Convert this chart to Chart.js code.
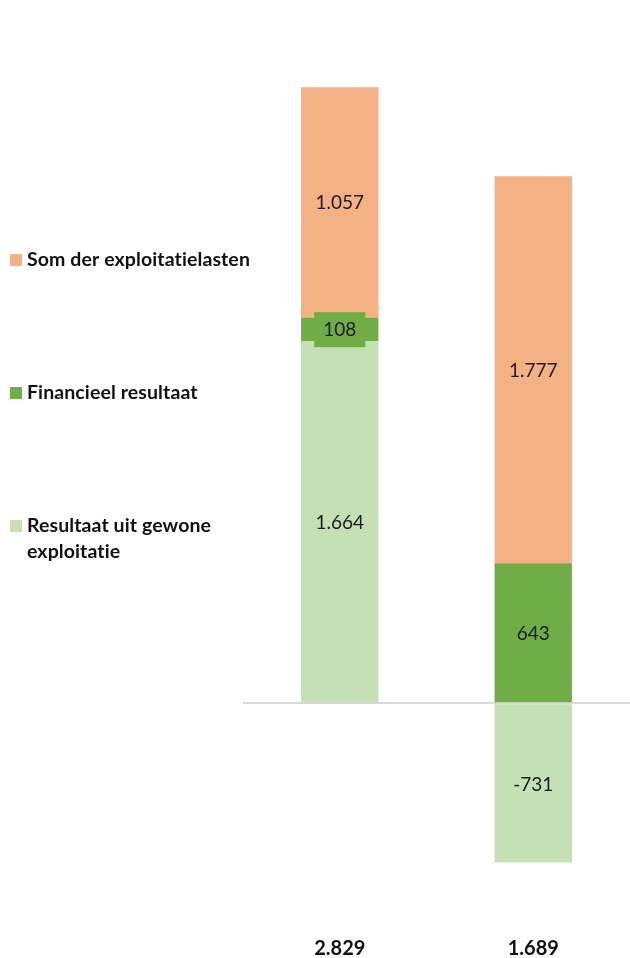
<!DOCTYPE html>
<html>
<head>
<meta charset="utf-8">
<script src="https://cdn.jsdelivr.net/npm/chart.js@4/dist/chart.umd.min.js"></script>
<style>
  html,body{margin:0;padding:0;background:#fff;}
  #wrap{width:630px;height:958px;position:relative;}
</style>
</head>
<body>
<div id="wrap"><canvas id="c"></canvas></div>
<script>
const categories = ['2.829', '1.689'];
const exploitatie = [1664, -731];
const financieel = [108, 643];
const lasten = [1057, 1777];
const seriesNames = ['Resultaat uit gewone exploitatie', 'Financieel resultaat', 'Som der exploitatielasten'];
const colors = ['#C5E0B4', '#70AD47', '#F4B183'];

const FONT = "Lato, sans-serif";
const fmt = v => (v < 0 ? '-' : '') + Math.abs(v).toLocaleString('de-DE');

// value labels in the middle of every segment
const segLabels = {
  id: 'segLabels',
  afterDatasetsDraw(chart) {
    const ctx = chart.ctx;
    ctx.save();
    ctx.font = '19px ' + FONT;
    ctx.textAlign = 'center';
    ctx.textBaseline = 'middle';
    chart.data.datasets.forEach((ds, di) => {
      chart.getDatasetMeta(di).data.forEach((bar, i) => {
        const v = ds.data[i];
        const y = (bar.y + bar.base) / 2;
        const txt = fmt(v);
        if (Math.abs(bar.y - bar.base) < 30) {
          const w = ctx.measureText(txt).width + 18;
          ctx.fillStyle = ds.backgroundColor;
          ctx.fillRect(bar.x - w / 2, y - 17, w, 35);
        }
        ctx.fillStyle = '#1a1a1a';
        ctx.fillText(txt, bar.x, y + 1);
      });
    });
    ctx.restore();
  }
};

// legend on the left, top series first
const sideLegend = {
  id: 'sideLegend',
  afterDraw(chart) {
    const ctx = chart.ctx;
    ctx.save();
    ctx.font = 'bold 19.5px ' + FONT;
    ctx.letterSpacing = '0.1px';
    ctx.textBaseline = 'middle';
    const ys = [526, 393, 260];
    chart.data.datasets.forEach((ds, di) => {
      const y = ys[di];
      ctx.fillStyle = ds.backgroundColor;
      ctx.fillRect(10, y - 6, 12, 12);
      // wrap text to fit in the left column
      const words = ds.label.split(' ');
      const lines = [];
      let line = '';
      words.forEach(w => {
        const t = line ? line + ' ' + w : w;
        if (ctx.measureText(t).width > 240 && line) { lines.push(line); line = w; }
        else line = t;
      });
      lines.push(line);
      ctx.fillStyle = '#111';
      lines.forEach((l, k) => ctx.fillText(l, 27, y + k * 26));
    });
    ctx.restore();
  }
};

new Chart(document.getElementById('c'), {
  type: 'bar',
  data: {
    labels: categories,
    datasets: [
      { label: seriesNames[0], data: exploitatie, backgroundColor: colors[0] },
      { label: seriesNames[1], data: financieel, backgroundColor: colors[1] },
      { label: seriesNames[2], data: lasten, backgroundColor: colors[2] }
    ].map(d => ({ ...d, borderWidth: 0, categoryPercentage: 1, barPercentage: 0.4 }))
  },
  options: {
    responsive: true, maintainAspectRatio: false, animation: false,
    layout: { padding: { left: 243, top: 50, right: 0, bottom: -19 } },
    plugins: { legend: { display: false }, tooltip: { enabled: false } },
    scales: {
      x: {
        stacked: true,
        grid: { display: false }, border: { display: false },
        ticks: { color: '#111', padding: 16, font: { family: FONT, size: 20, weight: 'bold' } }
      },
      y: {
        stacked: true, min: -963, max: 3000,
        border: { display: false },
        ticks: { display: false },
        afterBuildTicks: s => { s.ticks = [{ value: 0 }]; },
        grid: { drawTicks: false, lineWidth: 2, color: '#d9d9d9' }
      }
    }
  },
  plugins: [segLabels, sideLegend]
});
</script>
</body>
</html>
